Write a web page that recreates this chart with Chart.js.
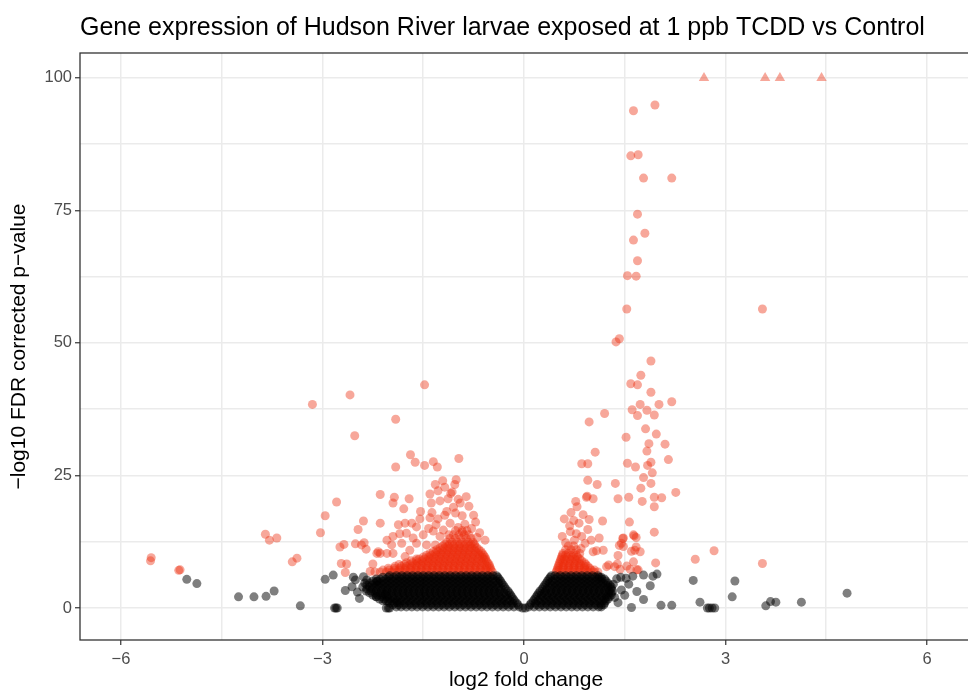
<!DOCTYPE html>
<html>
<head>
<meta charset="utf-8">
<script src="https://cdn.jsdelivr.net/npm/chart.js@4.4.1/dist/chart.umd.min.js"></script>
<style>
  html, body { margin: 0; padding: 0; background: #fff; overflow: hidden; }
  canvas { display: block; }
</style>
</head>
<body>
<canvas id="volcano" width="978" height="693"></canvas>
<script>
// axis ticks: every 1.5 / 12.5 is a grid line, only the major ones get a label
const xTicks = [-6, -4.5, -3, -1.5, 0, 1.5, 3, 4.5, 6];
const xLabels = ["\u22126", "", "\u22123", "", "0", "", "3", "", "6"];
const yTicks = [0, 12.5, 25, 37.5, 50, 62.5, 75, 87.5, 100];
const yLabels = ["0", "", "25", "", "50", "", "75", "", "100"];

// genes with -log10 FDR over 100, drawn capped at 100 as triangles
const cappedFC = [2.68, 3.59, 3.81, 4.43];
const cappedY = 100;

// significant genes (red), scattered ones: [log2 FC, -log10 FDR]
const sigPoints = [
  [1.63,93.8],[1.95,94.9],[1.59,85.3],[1.70,85.5],[1.78,81.1],[2.20,81.1],[1.69,74.3],[1.80,70.7],
  [1.63,69.4],[1.69,65.5],[1.54,62.7],[1.67,62.6],[1.53,56.4],[3.55,56.4],[1.42,50.8],[1.37,50.2],
  [1.89,46.6],[1.74,43.9],[1.59,42.3],[1.69,42.1],[1.89,40.7],[1.73,38.4],[2.01,38.4],[2.20,38.9],
  [1.61,37.4],[1.83,37.3],[1.69,36.3],[1.94,36.4],[1.20,36.7],[0.97,35.1],[1.81,33.8],[1.97,32.8],
  [1.52,32.2],[1.86,31.0],[2.10,30.9],[1.83,29.6],[1.06,29.4],[0.86,27.2],[0.95,27.2],[1.54,27.3],
  [1.66,26.6],[1.84,26.9],[1.89,27.5],[2.15,28.0],[1.91,25.5],[1.78,24.6],[0.95,24.1],[1.09,23.3],
  [1.36,23.5],[1.89,23.5],[1.74,22.6],[2.26,21.8],[0.93,20.9],[0.94,21.1],[1.03,20.6],[1.40,20.6],
  [1.56,20.9],[1.76,20.1],[1.94,20.9],[2.05,20.8],[1.94,19.1],[0.77,20.1],[0.79,19.1],[0.70,18.0],
  [0.74,16.5],[0.97,16.7],[1.17,16.4],[1.57,16.2],[1.94,14.3],[1.64,13.6],[1.67,13.3],[1.47,13.1],
  [1.42,11.8],[1.67,11.5],[1.60,10.7],[1.73,10.6],[1.08,10.8],[1.18,10.9],[1.40,9.9],[1.96,8.5],
  [2.55,9.2],[2.83,10.8],[1.26,8.1],[1.39,8.3],[1.53,7.9],[1.58,7.3],[1.43,7.3],[3.55,8.4],
  [0.57,13.5],[0.69,14.4],[0.78,14.0],[0.86,13.5],[0.91,12.2],[1.03,10.6],[1.35,7.8],[1.45,12.2],
  [1.48,13.2],[1.63,13.8],[1.65,10.9],[1.63,8.7],[1.68,7.2],[1.48,11.6],[1.23,7.8],[1.70,7.2],
  [0.62,12.3],[0.75,12.8],[0.85,11.2],[0.68,15.5],[0.82,16.0],[0.95,14.8],[1.00,12.8],[1.12,13.2],
  [0.88,17.6],[0.60,16.8],
  [-5.55,9.5],[-5.56,8.9],[-5.12,7.2],[-5.14,7.1],[-3.85,13.9],[-3.79,12.8],[-3.68,13.2],[-3.45,8.7],
  [-3.38,9.4],[-3.15,38.4],[-3.03,14.2],[-2.96,17.4],[-2.79,20.0],[-2.59,40.2],[-2.52,32.5],[-2.74,11.5],
  [-2.68,12.0],[-2.72,8.4],[-2.64,8.3],[-2.66,6.7],[-2.39,16.4],[-2.47,14.8],[-2.51,12.1],[-2.38,12.3],
  [-2.35,11.1],[-2.42,11.9],[-2.25,8.3],[-2.29,6.9],[-2.19,10.3],[-2.14,10.3],[-2.14,21.4],[-2.14,16.0],
  [-1.48,42.1],[-1.91,35.6],[-1.69,28.9],[-1.62,27.5],[-1.91,26.6],[-1.48,26.9],[-1.35,27.6],[-1.29,26.6],
  [-0.97,28.2],[-1.32,23.3],[-1.28,22.1],[-1.21,24.0],[-1.01,24.2],[-1.03,23.3],[-1.07,21.9],[-1.09,21.6],
  [-1.93,20.9],[-1.95,19.8],[-1.71,20.6],[-1.79,18.7],[-1.54,18.2],[-1.38,19.8],[-1.37,18.0],[-1.25,20.2],
  [-1.13,20.6],[-1.15,18.2],[-1.02,17.9],[-0.92,17.4],[-0.82,19.2],[-0.75,17.5],[-1.87,15.7],[-1.75,14.1],
  [-1.67,16.0],[-1.60,15.3],[-1.50,13.8],[-2.04,12.8],[-1.95,13.5],[-1.97,11.9],[-1.82,12.2],[-1.95,10.3],
  [-2.04,10.3],[-2.17,10.6],[-1.10,16.0],[-1.77,16.0],[-1.31,15.7],[-1.20,14.7],[-1.60,12.2],[-1.45,11.9],
  [-1.32,11.9],[-1.70,10.9],[-1.77,9.7],[-0.88,15.8],[-0.66,14.2],[-0.72,16.2],[-0.58,12.8],
  [-1.40,17.0],[-1.28,16.8],[-1.18,17.5],[-1.05,19.0],[-0.95,19.8],[-0.86,21.0],[-0.78,15.0],[-1.25,13.5],
  [-1.35,14.5],[-0.98,15.2],[-1.12,13.8],[-0.92,14.3],[-0.70,13.3],[-1.42,15.0],[-1.55,16.8],[-1.65,13.2],
  [-1.85,14.0],[-1.40,21.5],[-1.18,22.8],[-0.98,20.5]
];

// dense red core just above the FDR cut: one y per row, x positions read along the row
const sigRowY = [6.8, 7.15, 7.5, 7.85, 8.2, 8.55, 8.9, 9.25, 9.6, 9.95, 10.3, 10.65,
                 11.0, 11.35, 11.7, 12.05, 12.4, 13.1, 13.8, 14.6];
const sigRowX = [
  [-0.47,-0.53,-0.61,-0.69,-0.77,-0.85,-0.93,-1.01,-1.09,-1.17,-1.25,-1.33,-1.41,-1.49,-1.57,-1.65,-1.73,-1.81,-1.89,-1.97,-2.05,-2.14,-2.22,
    0.48,0.56,0.64,0.72,0.80,0.88,0.96,1.04,1.10],
  [-0.49,-0.57,-0.65,-0.73,-0.81,-0.89,-0.97,-1.05,-1.13,-1.21,-1.29,-1.37,-1.45,-1.53,-1.61,-1.69,-1.77,-1.85,-1.93,-2.01,-2.10,
    0.49,0.52,0.60,0.68,0.76,0.84,0.92,1.00,1.05],
  [-2.02,-1.93,-1.85,-1.77,-1.69,-1.61,-1.53,-1.45,-1.37,-1.29,-1.21,-1.13,-1.05,-0.97,-0.89,-0.81,-0.73,-0.65,-0.57,-0.50,
    0.50,0.58,0.66,0.74,0.82,0.90,0.98],
  [-0.51,-0.55,-0.63,-0.71,-0.79,-0.87,-0.95,-1.03,-1.11,-1.19,-1.27,-1.35,-1.43,-1.51,-1.59,-1.67,-1.75,-1.83,-1.92,
    0.51,0.58,0.66,0.74,0.82,0.90,0.95],
  [-1.86,-1.78,-1.70,-1.62,-1.54,-1.46,-1.38,-1.30,-1.22,-1.14,-1.06,-0.98,-0.90,-0.82,-0.74,-0.66,-0.58,-0.52,
    0.52,0.60,0.68,0.76,0.84,0.92],
  [-0.54,-0.62,-0.70,-0.78,-0.86,-0.94,-1.02,-1.10,-1.18,-1.26,-1.34,-1.42,-1.50,-1.58,-1.66,-1.75,
    0.53,0.58,0.66,0.74,0.82,0.90],
  [-1.68,-1.60,-1.52,-1.44,-1.36,-1.28,-1.20,-1.12,-1.04,-0.96,-0.88,-0.80,-0.72,-0.64,-0.56,
    0.54,0.62,0.70,0.78,0.86],
  [-0.57,-0.60,-0.68,-0.76,-0.84,-0.92,-1.00,-1.08,-1.16,-1.24,-1.32,-1.40,-1.48,-1.56,-1.60,
    0.55,0.60,0.68,0.76,0.83],
  [-1.50,-1.42,-1.34,-1.26,-1.18,-1.10,-1.02,-0.94,-0.86,-0.78,-0.70,-0.62,-0.58,
    0.56,0.64,0.72,0.80],
  [-0.60,-0.66,-0.74,-0.82,-0.90,-0.98,-1.06,-1.14,-1.22,-1.30,-1.38,-1.45,
    0.57,0.62,0.70,0.78],
  [-1.40,-1.32,-1.24,-1.16,-1.08,-1.00,-0.92,-0.84,-0.76,-0.68,-0.62,
    0.58,0.66,0.74,0.83],
  [-0.64,-0.72,-0.80,-0.88,-0.96,-1.04,-1.12,-1.20,-1.28,-1.35],
  [-1.30,-1.22,-1.14,-1.06,-0.98,-0.90,-0.82,-0.74,-0.67, 0.62,0.70,0.78],
  [-0.70,-0.78,-0.86,-0.94,-1.02,-1.10,-1.18,-1.25],
  [-1.21,-1.13,-1.05,-0.97,-0.89,-0.81,-0.73, 0.66,0.74],
  [-0.74,-0.79,-0.87,-0.95,-1.03,-1.11,-1.18],
  [-1.15,-1.07,-0.99,-0.91,-0.83,-0.76],
  [-1.10,-1.02,-0.94,-0.86,-0.79],
  [-1.05,-0.97,-0.89,-0.82],
  [-1.02,-0.92,-0.85]
];

// not significant genes (black), scattered ones
const nsPoints = [
  [-5.02,5.4],[-4.87,4.6],[-4.25,2.1],[-4.02,2.1],[-3.84,2.2],[-3.72,3.2],[-3.33,0.4],[-2.96,5.4],
  [-2.84,6.2],[-2.80,0],[-2.82,0],[-2.78,0],[-2.54,5.8],[-2.56,4.0],[-2.48,3.0],[-2.51,5.3],
  [-2.37,4.7],[-2.39,5.9],[-2.34,5.3],[-2.19,5.0],[-2.20,2.1],[-2.07,2.6],[-2.02,1.3],[-1.89,1.0],
  [-2.05,0],[-2.00,0],[-2.02,0],[-2.66,3.3],[-2.45,1.8],[-0.02,0],[0.02,0],
  [1.44,5.8],[1.62,6.0],[1.78,6.2],[1.92,6.0],[1.98,6.4],[1.56,4.5],[1.88,4.2],[1.68,3.1],
  [1.45,3.4],[1.33,4.5],[1.78,1.6],[1.60,0.1],[2.04,0.5],[2.20,0.5],[2.52,5.2],[2.62,1.1],
  [2.73,0],[2.76,0],[2.80,0],[2.84,0],[3.14,5.1],[3.10,2.1],[3.60,0.4],[3.67,1.2],[3.75,1.1],
  [4.13,1.1],[4.81,2.8],[1.35,2.0],[1.40,1.0],[1.50,2.4],[1.38,5.5],[1.52,5.6]
];

// dense black core (the V around zero)
const nsRowY = [0.2, 0.6, 0.95, 1.35, 1.7, 2.1, 2.45, 2.85, 3.2, 3.6, 3.95, 4.35, 4.7, 5.1, 5.45, 5.8, 6.1];
const nsRowX = [
  [-0.07,-0.15,-0.23,-0.31,-0.39,-0.47,-0.55,-0.63,-0.71,-0.79,-0.87,-0.95,-1.03,-1.11,-1.19,-1.27,-1.35,-1.43,-1.51,-1.59,-1.67,-1.75,-1.83,-1.90,
    0.07,0.15,0.23,0.31,0.39,0.47,0.55,0.63,0.71,0.79,0.87,0.95,1.03,1.11,1.15],
  [-0.09,-0.19,-0.27,-0.35,-0.43,-0.51,-0.59,-0.67,-0.75,-0.83,-0.91,-0.99,-1.07,-1.15,-1.23,-1.31,-1.39,-1.47,-1.55,-1.63,-1.71,-1.79,-1.87,-1.95,
    0.09,0.19,0.27,0.35,0.43,0.51,0.59,0.67,0.75,0.83,0.91,0.99,1.07,1.15,1.19],
  [-0.11,-0.17,-0.25,-0.33,-0.41,-0.49,-0.57,-0.65,-0.73,-0.81,-0.89,-0.97,-1.05,-1.13,-1.21,-1.29,-1.37,-1.45,-1.53,-1.61,-1.69,-1.77,-1.85,-1.93,-2.00,
    0.11,0.17,0.25,0.33,0.41,0.49,0.57,0.65,0.73,0.81,0.89,0.97,1.05,1.13,1.20],
  [-0.14,-0.21,-0.29,-0.37,-0.45,-0.53,-0.61,-0.69,-0.77,-0.85,-0.93,-1.01,-1.09,-1.17,-1.25,-1.33,-1.41,-1.49,-1.57,-1.65,-1.73,-1.81,-1.89,-1.97,-2.05,-2.10,
    0.14,0.21,0.29,0.37,0.45,0.53,0.61,0.69,0.77,0.85,0.93,1.01,1.09,1.17,1.22],
  [-0.16,-0.24,-0.32,-0.40,-0.48,-0.56,-0.64,-0.72,-0.80,-0.88,-0.96,-1.04,-1.12,-1.20,-1.28,-1.36,-1.44,-1.52,-1.60,-1.68,-1.76,-1.84,-1.92,-2.00,-2.08,-2.15,
    0.16,0.24,0.32,0.40,0.48,0.56,0.64,0.72,0.80,0.88,0.96,1.04,1.12,1.20,1.25],
  [-0.18,-0.28,-0.36,-0.44,-0.52,-0.60,-0.68,-0.76,-0.84,-0.92,-1.00,-1.08,-1.16,-1.24,-1.32,-1.40,-1.48,-1.56,-1.64,-1.72,-1.80,-1.88,-1.96,-2.04,-2.12,-2.20,
    0.18,0.28,0.36,0.44,0.52,0.60,0.68,0.76,0.84,0.92,1.00,1.08,1.16,1.23,1.27],
  [-0.20,-0.26,-0.34,-0.42,-0.50,-0.58,-0.66,-0.74,-0.82,-0.90,-0.98,-1.06,-1.14,-1.22,-1.30,-1.38,-1.46,-1.54,-1.62,-1.70,-1.78,-1.86,-1.94,-2.02,-2.10,-2.18,-2.25,
    0.20,0.26,0.34,0.42,0.50,0.58,0.66,0.74,0.82,0.90,0.98,1.06,1.14,1.22,1.30],
  [-0.22,-0.30,-0.38,-0.46,-0.54,-0.62,-0.70,-0.78,-0.86,-0.94,-1.02,-1.10,-1.18,-1.26,-1.34,-1.42,-1.50,-1.58,-1.66,-1.74,-1.82,-1.90,-1.98,-2.06,-2.14,-2.22,-2.30,
    0.22,0.30,0.38,0.46,0.54,0.62,0.70,0.78,0.86,0.94,1.02,1.10,1.18,1.26,1.30],
  [-0.24,-0.36,-0.44,-0.52,-0.60,-0.68,-0.76,-0.84,-0.92,-1.00,-1.08,-1.16,-1.24,-1.32,-1.40,-1.48,-1.56,-1.64,-1.72,-1.80,-1.88,-1.96,-2.04,-2.12,-2.20,-2.28,-2.35,
    0.24,0.32,0.40,0.48,0.56,0.64,0.72,0.80,0.88,0.96,1.04,1.12,1.20,1.27,1.32],
  [-0.27,-0.34,-0.42,-0.50,-0.58,-0.66,-0.74,-0.82,-0.90,-0.98,-1.06,-1.14,-1.22,-1.30,-1.38,-1.46,-1.54,-1.62,-1.70,-1.78,-1.86,-1.94,-2.02,-2.10,-2.18,-2.26,-2.34,
    0.27,0.34,0.42,0.50,0.58,0.66,0.74,0.82,0.90,0.98,1.06,1.14,1.22,1.30],
  [-0.29,-0.38,-0.46,-0.54,-0.62,-0.70,-0.78,-0.86,-0.94,-1.02,-1.10,-1.18,-1.26,-1.34,-1.42,-1.50,-1.58,-1.66,-1.74,-1.82,-1.90,-1.98,-2.06,-2.14,-2.22,-2.30,-2.40,
    0.29,0.38,0.46,0.54,0.62,0.70,0.78,0.86,0.94,1.02,1.10,1.18,1.25,1.30],
  [-0.31,-0.42,-0.50,-0.58,-0.66,-0.74,-0.82,-0.90,-0.98,-1.06,-1.14,-1.22,-1.30,-1.38,-1.46,-1.54,-1.62,-1.70,-1.78,-1.86,-1.94,-2.02,-2.10,-2.18,-2.26,-2.34,
    0.31,0.42,0.50,0.58,0.66,0.74,0.82,0.90,0.98,1.06,1.14,1.22,1.28],
  [-0.33,-0.38,-0.46,-0.54,-0.62,-0.70,-0.78,-0.86,-0.94,-1.02,-1.10,-1.18,-1.26,-1.34,-1.42,-1.50,-1.58,-1.66,-1.74,-1.82,-1.90,-1.98,-2.06,-2.14,-2.22,-2.30,
    0.33,0.38,0.46,0.54,0.62,0.70,0.78,0.86,0.94,1.02,1.10,1.18,1.25],
  [-0.35,-0.42,-0.50,-0.58,-0.66,-0.74,-0.82,-0.90,-0.98,-1.06,-1.14,-1.22,-1.30,-1.38,-1.46,-1.54,-1.62,-1.70,-1.78,-1.86,-1.94,-2.02,-2.10,-2.18,-2.25,
    0.35,0.42,0.50,0.58,0.66,0.74,0.82,0.90,0.98,1.06,1.14,1.22],
  [-0.37,-0.46,-0.54,-0.62,-0.70,-0.78,-0.86,-0.94,-1.02,-1.10,-1.18,-1.26,-1.34,-1.42,-1.50,-1.58,-1.66,-1.74,-1.82,-1.90,-1.98,-2.06,-2.14,-2.20,
    0.37,0.46,0.54,0.62,0.70,0.78,0.86,0.94,1.02,1.10,1.16,1.20],
  [-0.39,-0.50,-0.58,-0.66,-0.74,-0.82,-0.90,-0.98,-1.06,-1.14,-1.22,-1.30,-1.38,-1.46,-1.54,-1.62,-1.70,-1.78,-1.86,-1.94,-2.02,-2.10,
    0.39,0.50,0.58,0.66,0.74,0.82,0.90,0.98,1.06,1.12,1.15],
  [-0.41,-0.46,-0.54,-0.62,-0.70,-0.78,-0.86,-0.94,-1.02,-1.10,-1.18,-1.26,-1.34,-1.42,-1.50,-1.58,-1.66,-1.74,-1.82,-1.90,-2.00,
    0.41,0.46,0.54,0.62,0.70,0.78,0.86,0.94,1.02,1.10]
];

function toXY(pairs) {
  return pairs.map(p => ({ x: p[0], y: p[1] }));
}
function rowsToXY(ys, xs) {
  let out = [];
  ys.forEach((y, i) => xs[i].forEach(x => out.push({ x: x, y: y })));
  return out;
}

const fontFamily = "'Liberation Sans', Arial, Helvetica, sans-serif";
const sigColor = "rgba(235, 45, 15, 0.42)";
const nsColor = "rgba(0, 0, 0, 0.5)";

// ggplot-like panel frame, drawn over the points
const panelBorder = {
  id: "panelBorder",
  afterDraw(chart) {
    const { ctx, chartArea: a } = chart;
    ctx.save();
    ctx.strokeStyle = "#333333";
    ctx.lineWidth = 1.3;
    ctx.strokeRect(a.left, a.top, a.right - a.left, a.bottom - a.top);
    ctx.restore();
  }
};

new Chart(document.getElementById("volcano"), {
  type: "scatter",
  data: {
    datasets: [
      {
        label: "not significant",
        data: toXY(nsPoints).concat(rowsToXY(nsRowY, nsRowX)),
        backgroundColor: nsColor,
        borderWidth: 0,
        pointRadius: 4.5,
        order: 0
      },
      {
        label: "significant",
        data: toXY(sigPoints).concat(rowsToXY(sigRowY, sigRowX)),
        backgroundColor: sigColor,
        borderWidth: 0,
        pointRadius: 4.5,
        order: 1
      },
      {
        label: "capped",
        data: cappedFC.map(x => ({ x: x, y: cappedY })),
        backgroundColor: sigColor,
        borderWidth: 0,
        pointStyle: "triangle",
        pointRadius: 6,
        order: 2
      }
    ]
  },
  options: {
    responsive: false,
    animation: false,
    devicePixelRatio: 1,
    layout: { padding: 0 },
    plugins: {
      legend: { display: false },
      tooltip: { enabled: false },
      title: {
        display: true,
        text: "Gene expression of Hudson River larvae exposed at 1 ppb TCDD vs Control",
        align: "start",
        fullSize: false,
        color: "#000",
        font: { family: fontFamily, size: 25, weight: "normal" },
        padding: { top: 13, bottom: 10 }
      }
    },
    scales: {
      x: {
        type: "linear",
        min: -6.61,
        max: 6.67,
        afterBuildTicks: s => { s.ticks = xTicks.map(v => ({ value: v })); },
        afterFit: s => { s.height = 53; },
        ticks: {
          callback: (v, i) => xLabels[i],
          color: "#4d4d4d",
          font: { family: fontFamily, size: 16.5 },
          padding: 5,
          maxRotation: 0,
          autoSkip: false
        },
        grid: {
          color: "#ebebeb",
          lineWidth: 1.5,
          drawTicks: true,
          tickLength: 5,
          tickWidth: 1.2,
          tickColor: c => (xLabels[c.index] ? "#333333" : "rgba(0,0,0,0)")
        },
        border: { display: false },
        title: {
          display: true,
          text: "log2 fold change",
          color: "#000",
          font: { family: fontFamily, size: 21 },
          padding: { top: 0, bottom: 0 }
        }
      },
      y: {
        type: "linear",
        min: -6.04,
        max: 104.7,
        afterBuildTicks: s => { s.ticks = yTicks.map(v => ({ value: v })); },
        afterFit: s => { s.width = 80; },
        ticks: {
          callback: (v, i) => yLabels[i],
          color: "#4d4d4d",
          font: { family: fontFamily, size: 16.5 },
          padding: 3,
          autoSkip: false
        },
        grid: {
          color: "#ebebeb",
          lineWidth: 1.5,
          drawTicks: true,
          tickLength: 5,
          tickWidth: 1.2,
          tickColor: c => (yLabels[c.index] ? "#333333" : "rgba(0,0,0,0)")
        },
        border: { display: false },
        title: {
          display: true,
          text: "\u2212log10 FDR corrected p\u2212value",
          color: "#000",
          font: { family: fontFamily, size: 21 },
          padding: { top: 7, bottom: 0 }
        }
      }
    }
  },
  plugins: [panelBorder]
});
</script>
</body>
</html>
